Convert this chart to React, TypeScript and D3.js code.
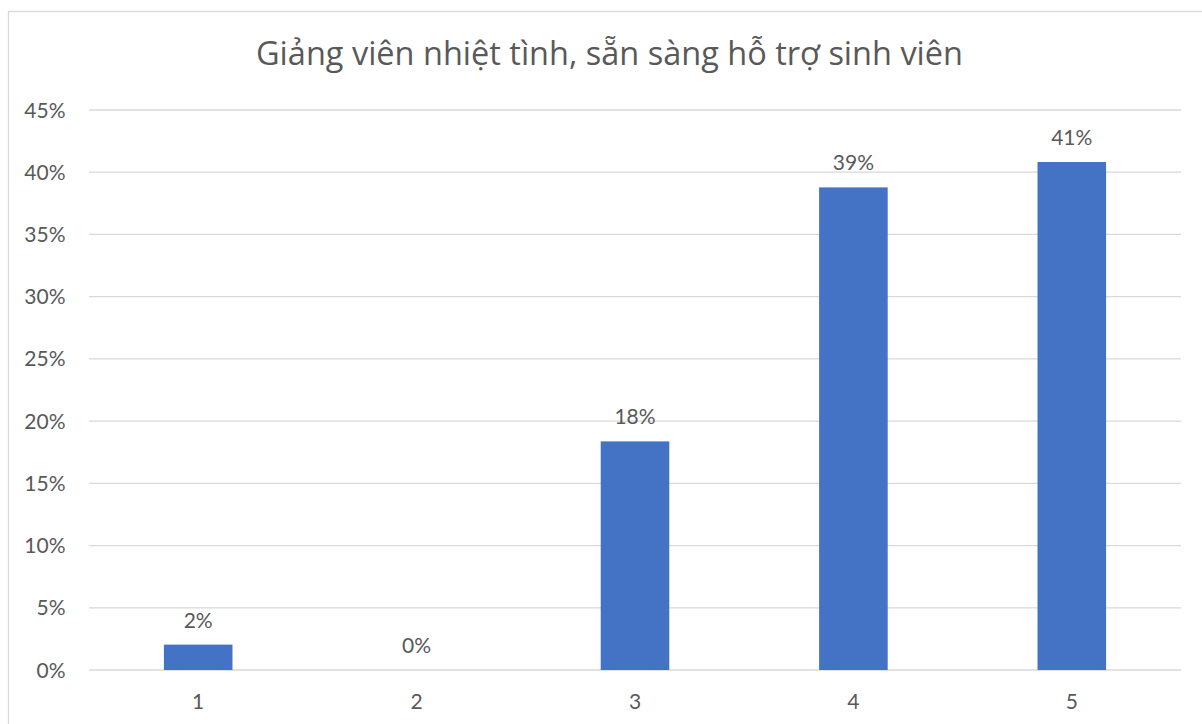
import React from "react";
import * as d3 from "d3";

const categories = ["1", "2", "3", "4", "5"];
const values = [0.0204, 0, 0.1837, 0.3878, 0.4082];
const labels = ["2%", "0%", "18%", "39%", "41%"];
const yTicks = [0, 0.05, 0.1, 0.15, 0.2, 0.25, 0.3, 0.35, 0.4, 0.45];
const title = "Giảng viên nhiệt tình, sẵn sàng hỗ trợ sinh viên";

const W = 1202;
const H = 724;
const plotLeft = 89;
const plotRight = 1181;
const plotTop = 110;
const plotBottom = 670;
const FONT = "Lato, 'Open Sans', sans-serif";
const TITLE_FONT = "'Open Sans', Lato, sans-serif";
const TEXT = "#595959";
const GRID = "#D9D9D9";
const BAR = "#4472C4";

export default function App() {
  const x = d3
    .scaleBand<string>()
    .domain(categories)
    .range([plotLeft, plotRight])
    .paddingInner(0.686)
    .paddingOuter(0.343);
  const y = d3.scaleLinear().domain([0, 0.45]).range([plotBottom, plotTop]);
  const fmt = d3.format(".0%");

  return (
    <svg
      width={W}
      height={H}
      style={{ position: "absolute", left: 0, top: 0, display: "block" }}
      fontFamily={FONT}
    >
      <rect x={0} y={0} width={W} height={H} fill="#fff" />
      <rect x={8.5} y={11.5} width={1210} height={740} fill="#fff" stroke={GRID} strokeWidth={1.3} />
      <text x={609.5} y={65} textAnchor="middle" fontSize={32.5} fill={TEXT} fontFamily={TITLE_FONT}>
        {title}
      </text>
      {yTicks.map((t) => (
        <g key={t}>
          <line x1={plotLeft} x2={plotRight} y1={y(t)} y2={y(t)} stroke={GRID} strokeWidth={1.3} />
          <text x={65.5} y={y(t) + 7.5} textAnchor="end" fontSize={21} fill={TEXT}>
            {fmt(t)}
          </text>
        </g>
      ))}
      {categories.map((c, i) => (
        <g key={c}>
          <rect
            x={x(c)!}
            y={y(values[i])}
            width={x.bandwidth()}
            height={y(0) - y(values[i])}
            fill={BAR}
          />
          <text
            x={x(c)! + x.bandwidth() / 2}
            y={y(values[i]) - 17}
            textAnchor="middle"
            fontSize={21}
            fill={TEXT}
          >
            {labels[i]}
          </text>
          <text x={x(c)! + x.bandwidth() / 2} y={709} textAnchor="middle" fontSize={21} fill={TEXT}>
            {c}
          </text>
        </g>
      ))}
    </svg>
  );
}
